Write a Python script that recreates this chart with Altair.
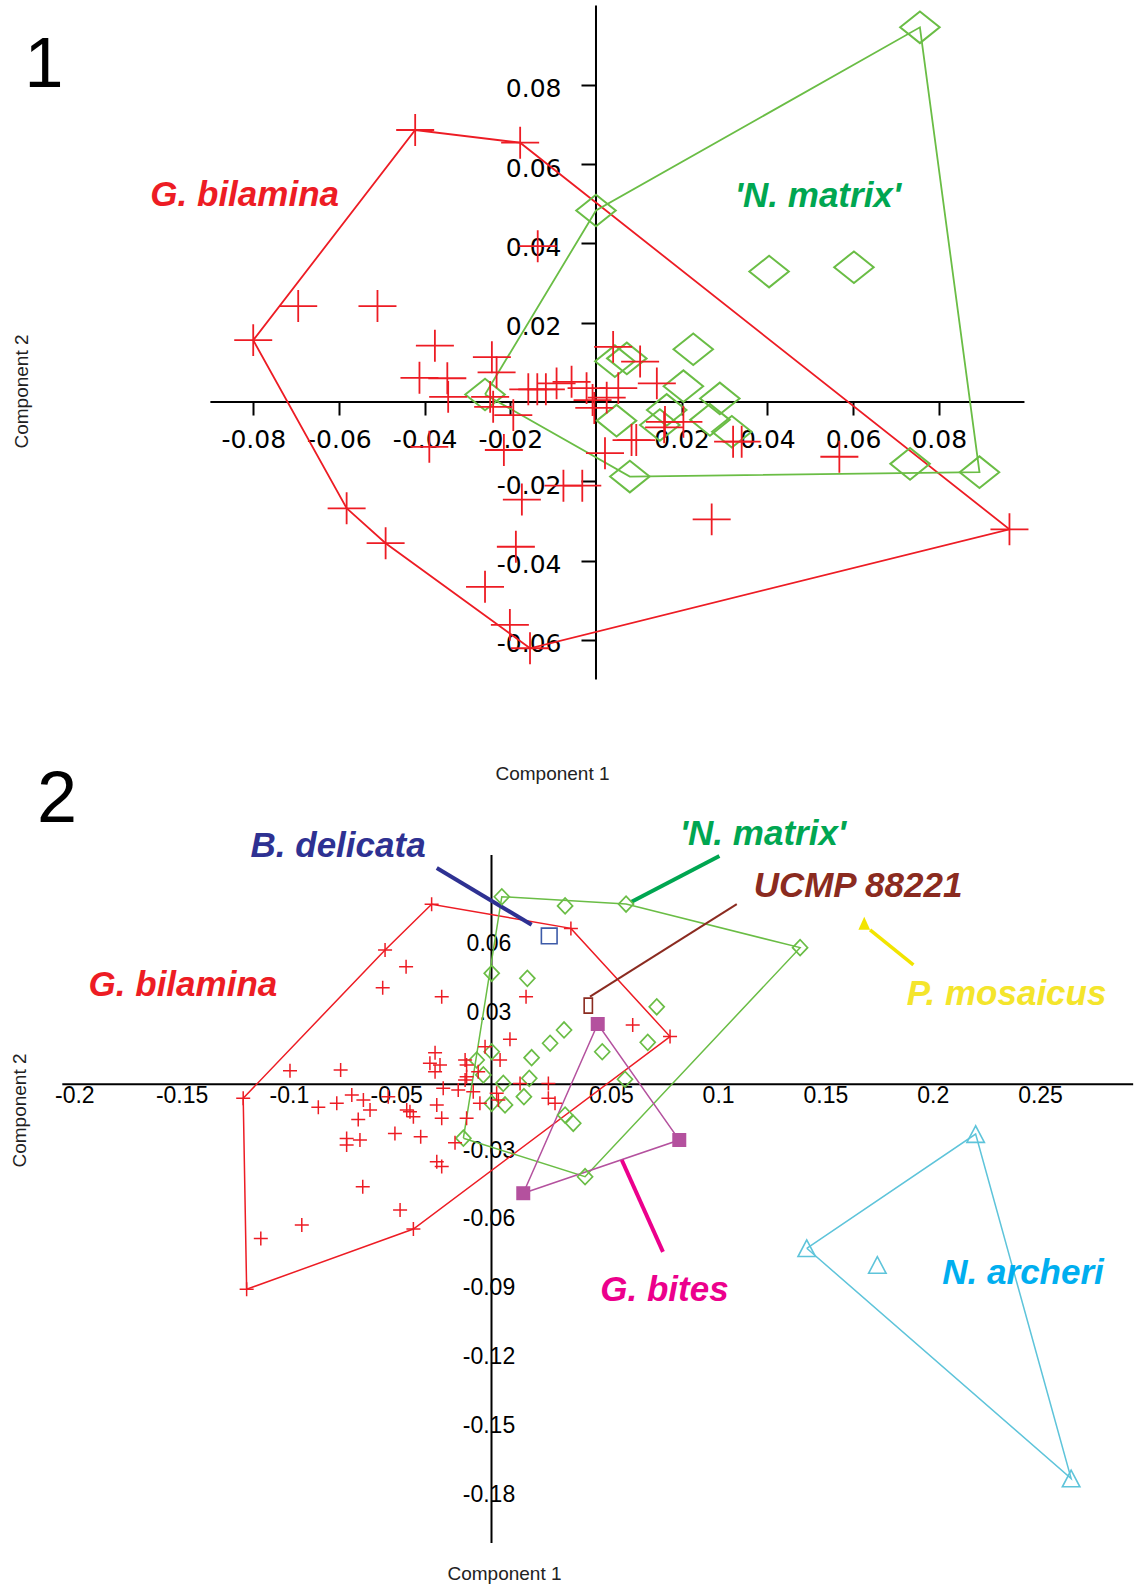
import altair as alt
import pandas as pd

# ---------------------------------------------------------------
# Panel 1 - PCA scores, G. bilamina vs 'N. matrix'
# ---------------------------------------------------------------
p1_bilamina_x = [-0.0422, -0.0177, 0.0965, -0.0154, -0.0491, -0.0582, -0.0800, -0.0695, -0.0510, -0.0136,
                 -0.0376, -0.0412, -0.0347, -0.0345, -0.0243, -0.0232, -0.0247, -0.0240, -0.0193, -0.0389,
                 -0.0215, -0.0076, -0.0032, -0.0173, -0.0187, -0.0259, -0.0201, -0.0158, -0.0137, -0.0117,
                 -0.0092, -0.0057, -0.0022, -0.0008, -0.0004, 0.0040, 0.0103, 0.0052, 0.0025, 0.0142,
                 0.0021, 0.0083, 0.0094, 0.0161, 0.0204, 0.0159, 0.0320, 0.0340, 0.0568, 0.0270]
p1_bilamina_y = [0.0686, 0.0654, -0.0321, -0.0621, -0.0356, -0.0268, 0.0156, 0.0242, 0.0242, 0.0393,
                 0.0142, 0.0061, 0.0060, 0.0013, 0.0113, 0.0075, 0.0013, -0.0012, -0.0033, -0.0113,
                 -0.0121, -0.0211, -0.0211, -0.0246, -0.0365, -0.0466, -0.0562, 0.0032, 0.0032, 0.0032,
                 0.0047, 0.0051, 0.0035, 0.0005, -0.0015, 0.0139, 0.0102, 0.0035, 0.0011, 0.0047,
                 -0.0129, -0.0096, -0.0096, -0.0050, -0.0050, -0.0064, -0.0100, -0.0100, -0.0138, -0.0296]

p1_matrix_x = [0.0000, 0.0756, 0.0895, 0.0079, -0.0259, 0.0404, 0.0602, 0.0227, 0.0044, 0.0072,
               0.0204, 0.0289, 0.0048, 0.0165, 0.0149, 0.0266, 0.0317, 0.0733]
p1_matrix_y = [0.0483, 0.0945, -0.0177, -0.0188, 0.0019, 0.0329, 0.0340, 0.0133, 0.0103, 0.0110,
               0.0040, 0.0009, -0.0047, -0.0020, -0.0058, -0.0045, -0.0075, -0.0156]

p1_xticks = [-0.08, -0.06, -0.04, -0.02, 0.02, 0.04, 0.06, 0.08]
p1_yticks = [-0.06, -0.04, -0.02, 0.02, 0.04, 0.06, 0.08]
p1_xdomain = [-0.1391, 0.1258]
p1_ydomain = [-0.09785, 0.10139]

# ---------------------------------------------------------------
# Panel 2 - PCA scores, all taxa
# ---------------------------------------------------------------
p2_bilamina_x = [-0.0279, 0.0370, 0.0832, -0.0364, -0.1141, -0.1157, -0.0496, -0.0398, -0.0507, -0.0232,
                 0.0161, 0.0086, -0.0939, -0.0703, -0.0263, -0.0287, -0.0240, -0.0263, -0.0123, -0.0030,
                 0.0040, -0.0123, -0.0062, -0.0225, -0.0155, -0.0085, 0.0024, 0.0133, 0.0265, 0.0265,
                 0.0296, -0.0054, 0.0032, -0.0255, -0.0232, -0.0116, -0.0170, -0.0450, -0.0330, -0.0255,
                 -0.0232, -0.0600, -0.0426, -0.0884, 0.0658, -0.0395, -0.0364, -0.0481, -0.0651, -0.0597,
                 -0.0566, -0.0721, -0.0807, -0.0621, -0.0675, -0.0675, -0.0613, -0.1075, -0.0116, -0.0116,
                 -0.0380]
p2_bilamina_y = [0.0785, 0.0680, 0.0208, -0.0631, -0.0894, -0.0061, 0.0586, 0.0513, 0.0421, 0.0382,
                 0.0382, 0.0196, 0.0059, 0.0062, 0.0138, 0.0092, 0.0084, 0.0055, 0.0106, 0.0164,
                 0.0106, 0.0019, 0.0055, -0.0017, -0.0025, -0.0032, -0.0039, 0.0004, 0.0004, -0.0061,
                 -0.0083, -0.0083, -0.0068, -0.0090, -0.0148, -0.0148, -0.0255, -0.0214, -0.0229, -0.0338,
                 -0.0359, -0.0447, -0.0548, -0.0614, 0.0259, -0.0112, -0.0141, -0.0054, -0.0047, -0.0068,
                 -0.0112, -0.0083, -0.0100, -0.0153, -0.0236, -0.0265, -0.0243, -0.0672, 0.0084, 0.0033,
                 -0.0120]

p2_matrix_x = [0.0048, 0.0627, 0.1438, 0.0436, -0.0131, 0.0343, 0.0167, 0.0001, 0.0770, 0.0728,
               0.0516, 0.0338, 0.0273, 0.0187, 0.0176, 0.0622, 0.0151, 0.0343, 0.0381, 0.0001,
               -0.0069, -0.0038, 0.0055, 0.0001, 0.0063]
p2_matrix_y = [0.0818, 0.0786, 0.0596, -0.0403, -0.0235, 0.0778, 0.0462, 0.0484, 0.0338, 0.0183,
               0.0142, 0.0237, 0.0179, 0.0116, 0.0026, 0.0022, -0.0054, -0.0134, -0.0170, 0.0142,
               0.0106, 0.0041, 0.0004, -0.0083, -0.0090]

p2_bites_x = [0.0495, 0.0875, 0.0148]
p2_bites_y = [0.0263, -0.0243, -0.0475]

p2_archeri_x = [0.2256, 0.1469, 0.1798, 0.2701]
p2_archeri_y = [-0.0217, -0.0715, -0.0788, -0.1719]

p2_delicata_x = [0.0269]
p2_delicata_y = [0.0647]

p2_ucmp_x = [0.0451]
p2_ucmp_y = [0.0343]

p2_mosaicus_x = [0.1737]
p2_mosaicus_y = [0.0702]

p2_xticks = [-0.2, -0.15, -0.1, -0.05, 0.05, 0.1, 0.15, 0.2, 0.25]
p2_yticks = [-0.18, -0.15, -0.12, -0.09, -0.06, -0.03, 0.03, 0.06]
p2_xdomain = [-0.22903, 0.29986]
p2_ydomain = [-0.21923, 0.12835]

# ---------------------------------------------------------------
# Styling
# ---------------------------------------------------------------
RED = "#ED1C24"
GREEN = "#6ABD45"
GREEN_TXT = "#00A651"
BLUE_TXT = "#2E3192"
BLUE_SQ = "#3D5BA8"
BROWN = "#8B2B20"
YELLOW_TXT = "#F4E52C"
YELLOW = "#F2E400"
PINK = "#EC008C"
PURPLE = "#B4519E"
CYAN_TXT = "#00AEEF"
CYAN = "#5EC4DA"

SANS = "Liberation Sans"
W = 1135
H1, H2 = 790, 797

CROSS_WIDE = "M-1,0H1M0,-0.84V0.84"
DIAMOND_WIDE = "M-1,0L0,-0.8L1,0L0,0.8Z"
CROSS = "M-1,0H1M0,-1V1"
DIAMOND = "M-1,0L0,-1.05L1,0L0,1.05Z"
SQUARE = "M-1,-1H1V1H-1Z"
SLIM_RECT = "M-0.55,-1H0.55V1H-0.55Z"
TRIANGLE = "M0,-1L-0.9,1L0.9,1Z"
TRIANGLE_OPEN = "M0,-0.95L-1,0.95L1,0.95Z"


def zero_offset(domain, length):
    """Pixel distance from the low end of the range to the value 0."""
    return length * (0 - domain[0]) / (domain[1] - domain[0])


def convex_hull(xs, ys):
    pts = sorted(set(zip(xs, ys)))

    def cross(o, a, b):
        return (a[0] - o[0]) * (b[1] - o[1]) - (a[1] - o[1]) * (b[0] - o[0])

    lower, upper = [], []
    for p in pts:
        while len(lower) >= 2 and cross(lower[-2], lower[-1], p) <= 0:
            lower.pop()
        lower.append(p)
    for p in reversed(pts):
        while len(upper) >= 2 and cross(upper[-2], upper[-1], p) <= 0:
            upper.pop()
        upper.append(p)
    ring = lower[:-1] + upper[:-1]
    ring.append(ring[0])
    return pd.DataFrame({"x": [p[0] for p in ring], "y": [p[1] for p in ring],
                         "order": list(range(len(ring)))})


def pts(xs, ys):
    return pd.DataFrame({"x": xs, "y": ys})


def make_xy(xdom, ydom, xaxis, yaxis):
    x = alt.X("x:Q", scale=alt.Scale(domain=xdom, nice=False, zero=False), axis=xaxis)
    y = alt.Y("y:Q", scale=alt.Scale(domain=ydom, nice=False, zero=False), axis=yaxis)
    return x, y


LABEL_EXPR = "'' + datum.value"

# ---------------------------------------------------------------
# Panel 1
# ---------------------------------------------------------------
p1_x0 = zero_offset(p1_xdomain, W)          # y axis position from the left
p1_y0 = zero_offset(p1_ydomain, H1)         # x axis position from the bottom

p1_xaxis = alt.Axis(values=p1_xticks, offset=-p1_y0, domain=False, grid=False,
                    tickSize=13, tickWidth=2, tickColor="black",
                    labelFont="DejaVu Sans", labelFontSize=25, labelColor="black",
                    labelPadding=12, labelExpr=LABEL_EXPR, labelOverlap=False, labelFlush=False,
                    title="Component 1", titleX=552, titleY=371,
                    titleFont=SANS, titleFontSize=19, titleFontWeight="normal", titleColor="#222222",
                    titleAlign="center", titleBaseline="middle")
p1_yaxis = alt.Axis(values=p1_yticks, offset=-p1_x0, domain=False, grid=False,
                    tickSize=15, tickWidth=2, tickColor="black",
                    labelFont="DejaVu Sans", labelFontSize=25, labelColor="black",
                    labelPadding=20, labelOffset=4, labelExpr=LABEL_EXPR, labelOverlap=False,
                    labelFlush=False, labelBaseline="middle",
                    title="Component 2", titleX=21 - p1_x0, titleY=391, titleAngle=270,
                    titleFont=SANS, titleFontSize=19, titleFontWeight="normal", titleColor="#222222",
                    titleAlign="center", titleBaseline="middle")
X1, Y1 = make_xy(p1_xdomain, p1_ydomain, p1_xaxis, p1_yaxis)

p1_axes = pd.DataFrame({"x": [-0.09, 0.0], "x2": [0.1, 0.0], "y": [0.0, -0.07], "y2": [0.0, 0.1]})
p1_labels = pd.DataFrame({
    "text": ["G. bilamina", "'N. matrix'"],
    "x": [-0.0820, 0.0518],
    "y": [0.0522, 0.0520],
    "color": [RED, GREEN_TXT],
})

p1_layers = [
    alt.Chart(p1_axes).mark_rule(color="black", strokeWidth=2).encode(x=X1, y=Y1, x2="x2:Q", y2="y2:Q"),
    alt.Chart(convex_hull(p1_bilamina_x, p1_bilamina_y)).mark_line(color=RED, strokeWidth=1.8)
    .encode(x=X1, y=Y1, order="order:Q"),
    alt.Chart(convex_hull(p1_matrix_x, p1_matrix_y)).mark_line(color=GREEN, strokeWidth=1.8)
    .encode(x=X1, y=Y1, order="order:Q"),
    alt.Chart(pts(p1_matrix_x, p1_matrix_y)).mark_point(shape=DIAMOND_WIDE, size=1560, filled=False,
                                                        color=GREEN, strokeWidth=2, opacity=1)
    .encode(x=X1, y=Y1),
    alt.Chart(pts(p1_bilamina_x, p1_bilamina_y)).mark_point(shape=CROSS_WIDE, size=1444, filled=False,
                                                            color=RED, strokeWidth=1.8, opacity=1)
    .encode(x=X1, y=Y1),
    alt.Chart(p1_labels).mark_text(font=SANS, fontSize=35, fontWeight="bold", fontStyle="italic",
                                   align="center", baseline="middle")
    .encode(x=X1, y=Y1, text="text:N", color=alt.Color("color:N", scale=None)),
    alt.Chart(pd.DataFrame({"t": ["1"]})).mark_text(font=SANS, fontSize=70, align="center",
                                                     baseline="alphabetic", color="black")
    .encode(text="t:N", x=alt.value(44), y=alt.value(87)),
]
panel1 = alt.layer(*p1_layers).properties(width=W, height=H1)

# ---------------------------------------------------------------
# Panel 2
# ---------------------------------------------------------------
p2_x0 = zero_offset(p2_xdomain, W)
p2_y0 = zero_offset(p2_ydomain, H2)

p2_xaxis = alt.Axis(values=p2_xticks, offset=-p2_y0, domain=False, grid=False,
                    ticks=False, tickSize=0,
                    labelFont=SANS, labelFontSize=23, labelColor="black",
                    labelPadding=0, labelOffset=12, labelExpr=LABEL_EXPR, labelOverlap=False,
                    labelFlush=False,
                    title="Component 1", titleX=504, titleY=489,
                    titleFont=SANS, titleFontSize=19, titleFontWeight="normal", titleColor="#222222",
                    titleAlign="center", titleBaseline="middle")
p2_yaxis = alt.Axis(values=p2_yticks, offset=-p2_x0, domain=False, grid=False,
                    ticks=False, tickSize=0,
                    labelFont=SANS, labelFontSize=23, labelColor="black",
                    labelPadding=3, labelOffset=-3, labelAlign="center", labelBaseline="middle",
                    labelExpr=LABEL_EXPR, labelOverlap=False, labelFlush=False,
                    title="Component 2", titleX=19 - p2_x0, titleY=320, titleAngle=270,
                    titleFont=SANS, titleFontSize=19, titleFontWeight="normal", titleColor="#222222",
                    titleAlign="center", titleBaseline="middle")
X2, Y2 = make_xy(p2_xdomain, p2_ydomain, p2_xaxis, p2_yaxis)

p2_axes = pd.DataFrame({"x": [-0.2, 0.0], "x2": [0.299, 0.0], "y": [0.0, -0.2], "y2": [0.0, 0.1]})

# leader lines joining the taxon names to their points
p2_leaders = pd.DataFrame({
    "x": [-0.0255, 0.0653, 0.0459, 0.1764, 0.0607],
    "y": [0.0943, 0.0796, 0.0382, 0.0673, -0.0330],
    "x2": [0.0187, 0.1062, 0.1143, 0.1966, 0.0799],
    "y2": [0.0696, 0.0996, 0.0786, 0.0521, -0.0731],
    "color": [BLUE_TXT, GREEN_TXT, BROWN, YELLOW, PINK],
    "w": [4, 4, 2, 3.5, 4],
})
p2_labels = pd.DataFrame({
    "text": ["B. delicata", "'N. matrix'", "UCMP 88221", "P. mosaicus", "G. bilamina", "G. bites", "N. archeri"],
    "x": [-0.0715, 0.1265, 0.1708, 0.2400, -0.1438, 0.0806, 0.2477],
    "y": [0.1041, 0.1092, 0.0864, 0.0396, 0.0431, -0.0897, -0.0823],
    "color": [BLUE_TXT, GREEN_TXT, BROWN, YELLOW_TXT, RED, PINK, CYAN_TXT],
})


def hull_line(xs, ys, color):
    return alt.Chart(convex_hull(xs, ys)).mark_line(color=color, strokeWidth=1.5).encode(
        x=X2, y=Y2, order="order:Q")


def symbols(xs, ys, shape, size, color, filled=False, sw=1.5):
    return alt.Chart(pts(xs, ys)).mark_point(shape=shape, size=size, filled=filled, color=color,
                                             strokeWidth=sw, opacity=1).encode(x=X2, y=Y2)


p2_layers = [
    alt.Chart(p2_axes).mark_rule(color="black", strokeWidth=2).encode(x=X2, y=Y2, x2="x2:Q", y2="y2:Q"),
    hull_line(p2_bilamina_x, p2_bilamina_y, RED),
    hull_line(p2_matrix_x, p2_matrix_y, GREEN),
    hull_line(p2_bites_x, p2_bites_y, PURPLE),
    hull_line(p2_archeri_x, p2_archeri_y, CYAN),
    alt.Chart(p2_leaders).mark_rule().encode(
        x=X2, y=Y2, x2="x2:Q", y2="y2:Q",
        color=alt.Color("color:N", scale=None), strokeWidth=alt.StrokeWidth("w:Q", scale=None)),
    symbols(p2_matrix_x, p2_matrix_y, DIAMOND, 225, GREEN, sw=1.7),
    symbols(p2_bilamina_x, p2_bilamina_y, CROSS, 196, RED, sw=1.5),
    symbols(p2_delicata_x, p2_delicata_y, SQUARE, 246, BLUE_SQ, sw=1.6),
    symbols(p2_ucmp_x, p2_ucmp_y, SLIM_RECT, 225, BROWN, sw=1.6),
    symbols(p2_bites_x, p2_bites_y, SQUARE, 196, PURPLE, filled=True),
    symbols(p2_mosaicus_x, p2_mosaicus_y, TRIANGLE, 169, YELLOW, filled=True),
    symbols(p2_archeri_x, p2_archeri_y, TRIANGLE_OPEN, 306, CYAN, sw=1.6),
    alt.Chart(p2_labels).mark_text(font=SANS, fontSize=35, fontWeight="bold", fontStyle="italic",
                                   align="center", baseline="middle")
    .encode(x=X2, y=Y2, text="text:N", color=alt.Color("color:N", scale=None)),
    alt.Chart(pd.DataFrame({"t": ["2"]})).mark_text(font=SANS, fontSize=72, align="center",
                                                     baseline="alphabetic", color="black")
    .encode(text="t:N", x=alt.value(57), y=alt.value(32)),
]
panel2 = alt.layer(*p2_layers).properties(width=W, height=H2)

chart = (
    alt.vconcat(panel1, panel2, spacing=0, bounds="flush")
    .properties(padding=0, background="white")
    .configure_view(stroke=None)
)

chart.save("out.html", embed_options={"renderer": "svg", "actions": False})
